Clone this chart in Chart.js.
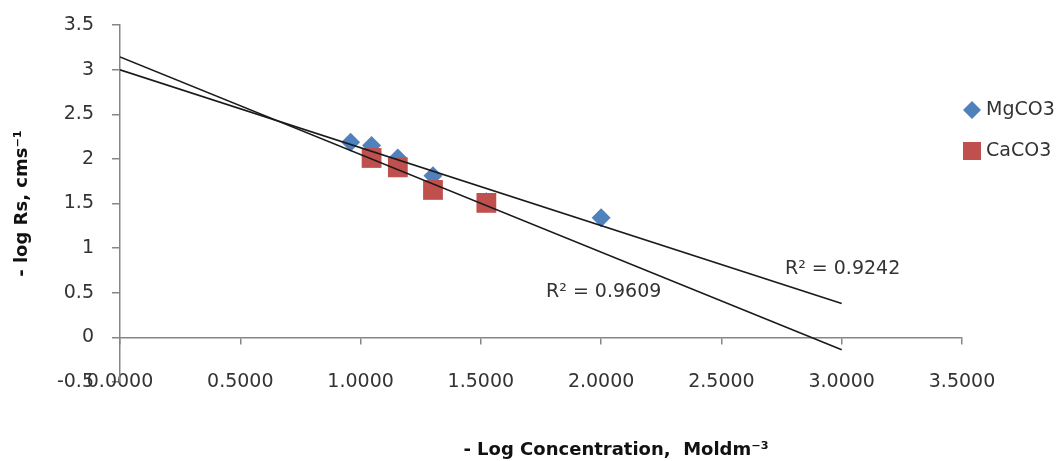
<!DOCTYPE html>
<html>
<head>
<meta charset="utf-8">
<script src="https://cdn.jsdelivr.net/npm/chart.js@4.4.1/dist/chart.umd.min.js"></script>
<style>
  html, body { margin: 0; padding: 0; background: #fff; }
</style>
</head>
<body>
<canvas id="rsChart" width="1064" height="461"></canvas>
<script>
/* ==============================
   DATA
============================== */
const seriesNames = ['MgCO3', 'CaCO3'];
const mgX = [0.9586, 1.0458, 1.1549, 1.3010, 1.5229, 2.0000];
const mgY = [2.185, 2.150, 2.010, 1.812, 1.520, 1.339];
const caX = [1.0458, 1.1549, 1.3010, 1.5229];
const caY = [2.010, 1.905, 1.652, 1.507];
const trendRange = [0, 3];
const r2Texts = ['R\u00B2 = 0.9242', 'R\u00B2 = 0.9609'];
const xTitle = '- Log Concentration,  Moldm\u207B\u00B3';
const yTitle = '- log Rs, cms\u207B\u00B9';

const FONT = '"DejaVu Sans", sans-serif';
const AXIS_GREY = '#868686';
const TEXT = '#333';
const BLUE = '#4F81BD';
const RED = '#C0504D';

/* least squares line, drawn over trendRange like Excel's trendline */
function trendPoints(xs, ys) {
    const n = xs.length;
    const mx = xs.reduce((a, v) => a + v, 0) / n;
    const my = ys.reduce((a, v) => a + v, 0) / n;
    let sxy = 0, sxx = 0;
    xs.forEach((x, i) => { sxy += (x - mx) * (ys[i] - my); sxx += (x - mx) * (x - mx); });
    const m = sxy / sxx;
    const b = my - m * mx;
    return trendRange.map(x => ({ x: x, y: b + m * x }));
}

const toPts = (xs, ys) => xs.map((x, i) => ({ x: x, y: ys[i] }));

/* ==============================
   TEXT EXTRAS: R² labels, x title, legend
============================== */
const extrasPlugin = {
    id: 'extras',
    afterDraw(chart) {
        const ctx = chart.ctx;
        const xs = chart.scales.x, ys = chart.scales.y;
        const area = chart.chartArea;
        ctx.save();

        // R² labels (anchored in data units)
        ctx.font = '19px ' + FONT;
        ctx.fillStyle = TEXT;
        ctx.textBaseline = 'middle';
        ctx.textAlign = 'left';
        ctx.fillText(r2Texts[0], xs.getPixelForValue(2.764), ys.getPixelForValue(0.761));
        ctx.fillText(r2Texts[1], xs.getPixelForValue(1.771), ys.getPixelForValue(0.503));

        // x axis title
        ctx.font = 'bold 18px ' + FONT;
        ctx.fillStyle = '#111';
        ctx.textAlign = 'center';
        ctx.fillText(xTitle, 616, 450);

        // legend
        const rows = [
            { name: seriesNames[0], color: BLUE, shape: 'diamond', y: 110 },
            { name: seriesNames[1], color: RED, shape: 'square', y: 151 }
        ];
        ctx.font = '19px ' + FONT;
        ctx.textAlign = 'left';
        rows.forEach(r => {
            const cx = area.right + 10;
            ctx.fillStyle = r.color;
            ctx.beginPath();
            if (r.shape === 'diamond') {
                ctx.moveTo(cx - 9, r.y);
                ctx.lineTo(cx, r.y - 9);
                ctx.lineTo(cx + 9, r.y);
                ctx.lineTo(cx, r.y + 9);
                ctx.closePath();
            } else {
                ctx.rect(cx - 9, r.y - 9, 18, 18);
            }
            ctx.fill();
            ctx.fillStyle = TEXT;
            ctx.fillText(r.name, area.right + 24, r.y);
        });
        ctx.restore();
    }
};

/* ==============================
   CHART
============================== */
const ctx = document.getElementById('rsChart');

new Chart(ctx.getContext('2d'), {
    type: 'scatter',
    data: {
        datasets: [
            {
                label: seriesNames[0] + ' trend',
                type: 'line',
                data: trendPoints(mgX, mgY),
                borderColor: '#1a1a1a',
                borderWidth: 1.6,
                pointRadius: 0,
                fill: false,
                order: 0
            },
            {
                label: seriesNames[1] + ' trend',
                type: 'line',
                data: trendPoints(caX, caY),
                borderColor: '#1a1a1a',
                borderWidth: 1.6,
                pointRadius: 0,
                fill: false,
                order: 0
            },
            {
                label: seriesNames[1],
                data: toPts(caX, caY),
                pointStyle: 'rect',
                pointRadius: 14,
                backgroundColor: RED,
                borderWidth: 0,
                order: 1
            },
            {
                label: seriesNames[0],
                data: toPts(mgX, mgY),
                pointStyle: 'rectRot',
                pointRadius: 9.5,
                backgroundColor: BLUE,
                borderWidth: 0,
                order: 2
            }
        ]
    },
    options: {
        responsive: false,
        animation: false,
        layout: { padding: { top: 25, right: 102, bottom: 49, left: 0 } },
        plugins: {
            legend: { display: false },
            tooltip: { enabled: false }
        },
        scales: {
            x: {
                type: 'linear',
                position: 'bottom',
                min: 0,
                max: 3.5,
                border: { display: false },
                grid: { display: false, drawTicks: false },
                ticks: {
                    stepSize: 0.5,
                    padding: -11,
                    color: TEXT,
                    font: { family: FONT, size: 19 },
                    maxRotation: 0,
                    callback: v => Number(v).toFixed(4)
                },
                afterFit: s => { s.height = 30; },
                // labels sit on the -0.5 level like the original, so don't clip them to the axis box
                afterUpdate: s => { s._computeLabelArea = () => undefined; }
            },
            xZero: {
                type: 'linear',
                axis: 'x',
                position: { y: 0 },
                min: 0,
                max: 3.5,
                border: { display: true, color: AXIS_GREY, width: 1.5 },
                grid: { drawOnChartArea: false, drawTicks: true, tickLength: 6, color: AXIS_GREY, lineWidth: 1.5 },
                ticks: { stepSize: 0.5, display: false }
            },
            y: {
                type: 'linear',
                min: -0.5,
                max: 3.5,
                border: { display: true, color: AXIS_GREY, width: 1.5 },
                grid: { drawOnChartArea: false, drawTicks: true, tickLength: 8, color: AXIS_GREY, lineWidth: 1.5 },
                ticks: {
                    stepSize: 0.5,
                    padding: 18,
                    color: TEXT,
                    font: { family: FONT, size: 19 },
                    callback: v => String(Number(Number(v).toFixed(1)))
                },
                title: {
                    display: true,
                    text: yTitle,
                    color: '#111',
                    font: { family: FONT, size: 18, weight: 'bold' },
                    padding: { top: 12, bottom: 0 }
                },
                afterFit: s => {
                    s.width = 120;
                    s.paddingTop = 0;
                    s.paddingBottom = 0;
                }
            }
        }
    },
    plugins: [extrasPlugin]
});
</script>
</body>
</html>
